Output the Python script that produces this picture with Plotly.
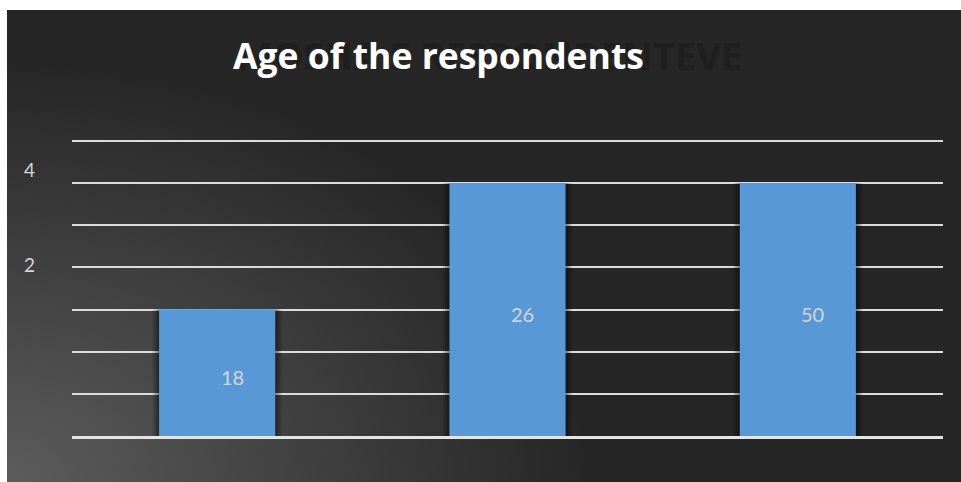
import base64
import plotly.graph_objects as go

# ---- data ----
categories = ["18", "26", "50"]
values = [1.5, 3, 3]
y_tick_vals = [2.03, 3.16]
y_tick_text = ["2", "4"]
grid_step = 0.5
title_text = "Age of the respondents"
ghost_text = "MOSHA E RESPONDENTEVE"

W, H = 961, 482
ML, MR, MT, MB = 72, 18, 133, 46
PW, PH = W - ML - MR, H - MT - MB
Y_MAX = PH / (295 / 3.5)


def px_x(px):
    return (px - ML) / PW


def px_y(py):
    return (H - MB - py) / PH


svg = f'''<svg xmlns="http://www.w3.org/2000/svg" width="{W}" height="{H}" viewBox="0 0 {W} {H}" preserveAspectRatio="none">
<defs><radialGradient id="g" gradientUnits="userSpaceOnUse" cx="7" cy="482" r="580" gradientTransform="translate(7 482) scale(1 0.72) translate(-7 -482)">
<stop offset="0" stop-color="#5c5c5c"/><stop offset="1" stop-color="#262626"/></radialGradient></defs>
<rect x="0" y="0" width="{W}" height="{H}" fill="#ffffff"/>
<rect x="7" y="10" width="{W-7}" height="{H-10}" fill="url(#g)"/>
</svg>'''
bg_src = "data:image/svg+xml;base64," + base64.b64encode(svg.encode()).decode()

fig = go.Figure()
# soft shadow behind bars
for w, a in [(0.445, 0.12), (0.43, 0.16), (0.415, 0.2)]:
    fig.add_trace(go.Bar(x=categories, y=values, width=w,
                         marker=dict(color=f"rgba(0,0,0,{a})", line=dict(width=0)),
                         hoverinfo="skip", showlegend=False))
fig.add_trace(go.Bar(x=categories, y=values, width=0.4,
                     marker=dict(color="#5898d6", line=dict(width=0)),
                     showlegend=False))

annotations = []
for i, (c, v) in enumerate(zip(categories, values)):
    annotations.append(dict(x=i, y=v / 2, xref="x", yref="y", text=c, showarrow=False,
                            xshift=15, yshift=-4,
                            font=dict(family="Lato", size=20, color="#d6d6d6")))
for tv, tt in zip(y_tick_vals, y_tick_text):
    annotations.append(dict(x=0, y=tv, xref="paper", yref="y", text=tt, showarrow=False,
                            xanchor="right", yanchor="middle", xshift=-35,
                            font=dict(family="Lato", size=19, color="#d4d4d4")))
annotations.append(dict(x=px_x(489), y=px_y(55), xref="paper", yref="paper",
                        text=ghost_text, showarrow=False, xanchor="center", yanchor="middle",
                        font=dict(family="Open Sans", size=38, color="#1f1f1f", weight="bold")))
annotations.append(dict(x=px_x(438), y=px_y(55), xref="paper", yref="paper",
                        text=title_text, showarrow=False, xanchor="center", yanchor="middle",
                        font=dict(family="Open Sans", size=35.5, color="#ffffff", weight="bold")))

fig.update_layout(
    width=W, height=H,
    margin=dict(l=ML, r=MR, t=MT, b=MB, pad=0),
    paper_bgcolor="#ffffff", plot_bgcolor="rgba(0,0,0,0)",
    barmode="overlay",
    images=[dict(source=bg_src, xref="paper", yref="paper",
                 x=-ML / PW, y=1 + MT / PH, sizex=W / PW, sizey=H / PH,
                 xanchor="left", yanchor="top", sizing="stretch", layer="below")],
    xaxis=dict(type="category", range=[-0.5, 2.5], showticklabels=False, showgrid=False,
               zeroline=False, showline=True, linecolor="#e4e4e4", linewidth=3, ticks=""),
    yaxis=dict(range=[0, Y_MAX], tick0=0, dtick=grid_step, showgrid=True, gridcolor="#dcdcdc",
               gridwidth=2, zeroline=False, showticklabels=False, ticks=""),
    annotations=annotations,
    font=dict(family="Lato"),
)
fig.write_html("out.html")
